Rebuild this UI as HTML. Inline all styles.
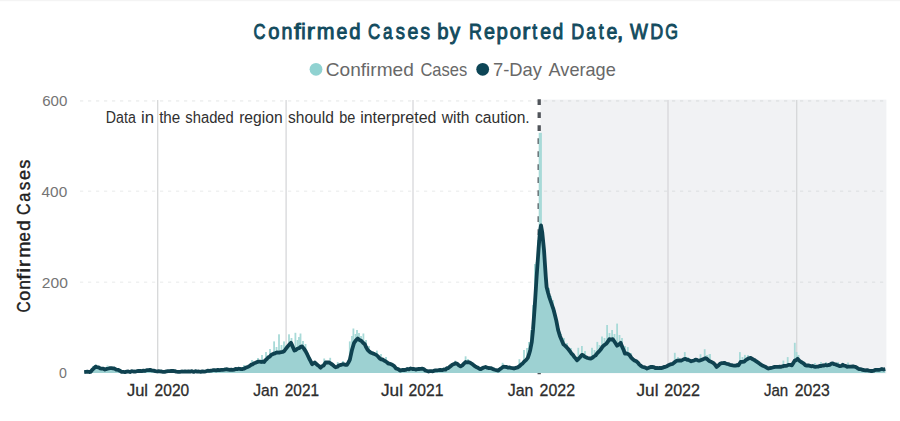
<!DOCTYPE html>
<html><head><meta charset="utf-8"><title>Confirmed Cases by Reported Date, WDG</title>
<style>
html,body{margin:0;padding:0;background:#fff;}
body{width:900px;height:421px;overflow:hidden;font-family:"Liberation Sans",sans-serif;}
svg{display:block;}
text{font-family:"Liberation Sans",sans-serif;}
</style></head><body>
<svg width="900" height="421" viewBox="0 0 900 421">
<rect width="900" height="421" fill="#ffffff"/>
<rect width="900" height="1.2" fill="#f4f4f4"/>
<!-- shaded region -->
<rect x="540.4" y="99.6" width="346" height="273.8" fill="#f1f2f4"/>
<!-- horizontal dotted gridlines -->
<g stroke="#7a7d82" stroke-opacity="0.11" stroke-width="1.6" stroke-dasharray="3.2 4.8" fill="none">
<line x1="80" y1="100.9" x2="886" y2="100.9"/><line x1="80" y1="191.2" x2="886" y2="191.2"/><line x1="80" y1="282.2" x2="886" y2="282.2"/>
</g>
<!-- vertical gridlines -->
<g stroke="#d5d6d8" stroke-width="1.25" fill="none">
<line x1="157.7" y1="100" x2="157.7" y2="373"/><line x1="286.1" y1="100" x2="286.1" y2="373"/><line x1="413.0" y1="100" x2="413.0" y2="373"/><line x1="668.0" y1="100" x2="668.0" y2="373"/><line x1="796.7" y1="100" x2="796.7" y2="373"/>
</g>
<!-- reference dashed line -->
<line x1="539.2" y1="99.2" x2="539.2" y2="374.3" stroke="#50545a" stroke-width="3.3" stroke-dasharray="5.9 7.1"/>
<!-- bars -->
<g fill="#a8dad8"><rect x="92.1" y="366.0" width="1.8" height="7.0"/><rect x="95.1" y="364.5" width="1.8" height="8.5"/><rect x="106.6" y="365.5" width="1.8" height="7.5"/><rect x="243.1" y="365.0" width="1.8" height="8.0"/><rect x="251.1" y="360.0" width="1.8" height="13.0"/><rect x="257.1" y="358.0" width="1.8" height="15.0"/><rect x="261.1" y="355.0" width="1.8" height="18.0"/><rect x="265.1" y="352.0" width="1.8" height="21.0"/><rect x="269.1" y="349.0" width="1.8" height="24.0"/><rect x="273.2" y="341.4" width="1.8" height="31.6"/><rect x="275.6" y="347.0" width="1.8" height="26.0"/><rect x="278.1" y="334.3" width="1.8" height="38.7"/><rect x="280.6" y="345.0" width="1.8" height="28.0"/><rect x="283.1" y="341.4" width="1.8" height="31.6"/><rect x="285.6" y="345.0" width="1.8" height="28.0"/><rect x="288.1" y="334.3" width="1.8" height="38.7"/><rect x="290.6" y="338.0" width="1.8" height="35.0"/><rect x="294.5" y="332.8" width="1.8" height="40.2"/><rect x="296.6" y="340.0" width="1.8" height="33.0"/><rect x="298.1" y="337.0" width="1.8" height="36.0"/><rect x="299.6" y="333.5" width="1.8" height="39.5"/><rect x="302.1" y="341.0" width="1.8" height="32.0"/><rect x="299.1" y="337.8" width="1.8" height="35.2"/><rect x="304.6" y="344.0" width="1.8" height="29.0"/><rect x="323.3" y="358.5" width="1.8" height="14.5"/><rect x="329.3" y="357.8" width="1.8" height="15.2"/><rect x="336.8" y="362.0" width="1.8" height="11.0"/><rect x="342.1" y="361.0" width="1.8" height="12.0"/><rect x="348.9" y="341.4" width="1.8" height="31.6"/><rect x="351.1" y="336.0" width="1.8" height="37.0"/><rect x="352.5" y="328.5" width="1.8" height="44.5"/><rect x="354.6" y="334.0" width="1.8" height="39.0"/><rect x="356.1" y="330.0" width="1.8" height="43.0"/><rect x="358.1" y="333.0" width="1.8" height="40.0"/><rect x="360.1" y="336.0" width="1.8" height="37.0"/><rect x="362.5" y="333.5" width="1.8" height="39.5"/><rect x="365.1" y="340.0" width="1.8" height="33.0"/><rect x="368.1" y="346.0" width="1.8" height="27.0"/><rect x="376.0" y="350.6" width="1.8" height="22.4"/><rect x="380.1" y="354.0" width="1.8" height="19.0"/><rect x="385.1" y="357.0" width="1.8" height="16.0"/><rect x="454.4" y="360.6" width="1.8" height="12.4"/><rect x="464.7" y="356.3" width="1.8" height="16.7"/><rect x="467.1" y="359.0" width="1.8" height="14.0"/><rect x="501.7" y="362.8" width="1.8" height="10.2"/><rect x="518.5" y="359.2" width="1.8" height="13.8"/><rect x="523.1" y="350.0" width="1.8" height="23.0"/><rect x="526.1" y="348.0" width="1.8" height="25.0"/><rect x="528.1" y="342.0" width="1.8" height="31.0"/><rect x="530.1" y="330.0" width="1.8" height="43.0"/><rect x="532.1" y="305.0" width="1.8" height="68.0"/><rect x="534.0" y="264.0" width="1.8" height="109.0"/><rect x="535.6" y="262.0" width="1.8" height="111.0"/><rect x="537.1" y="240.0" width="1.8" height="133.0"/><rect x="542.1" y="240.0" width="1.8" height="133.0"/><rect x="544.1" y="262.0" width="1.8" height="111.0"/><rect x="546.1" y="280.0" width="1.8" height="93.0"/><rect x="548.1" y="288.0" width="1.8" height="85.0"/><rect x="550.1" y="296.0" width="1.8" height="77.0"/><rect x="552.1" y="300.0" width="1.8" height="73.0"/><rect x="554.1" y="310.0" width="1.8" height="63.0"/><rect x="556.1" y="320.0" width="1.8" height="53.0"/><rect x="558.1" y="328.0" width="1.8" height="45.0"/><rect x="560.1" y="334.0" width="1.8" height="39.0"/><rect x="563.1" y="338.0" width="1.8" height="35.0"/><rect x="566.1" y="343.0" width="1.8" height="30.0"/><rect x="570.1" y="348.0" width="1.8" height="25.0"/><rect x="577.4" y="347.8" width="1.8" height="25.2"/><rect x="581.0" y="346.0" width="1.8" height="27.0"/><rect x="584.1" y="351.0" width="1.8" height="22.0"/><rect x="591.1" y="347.8" width="1.8" height="25.2"/><rect x="593.6" y="350.0" width="1.8" height="23.0"/><rect x="596.4" y="341.9" width="1.8" height="31.1"/><rect x="598.6" y="345.0" width="1.8" height="28.0"/><rect x="601.1" y="336.5" width="1.8" height="36.5"/><rect x="603.6" y="338.0" width="1.8" height="35.0"/><rect x="606.2" y="325.0" width="1.8" height="48.0"/><rect x="608.6" y="333.0" width="1.8" height="40.0"/><rect x="611.2" y="330.0" width="1.8" height="43.0"/><rect x="613.6" y="334.0" width="1.8" height="39.0"/><rect x="616.2" y="323.6" width="1.8" height="49.4"/><rect x="618.6" y="335.0" width="1.8" height="38.0"/><rect x="621.1" y="338.0" width="1.8" height="35.0"/><rect x="624.1" y="346.0" width="1.8" height="27.0"/><rect x="626.9" y="347.1" width="1.8" height="25.9"/><rect x="630.1" y="353.0" width="1.8" height="20.0"/><rect x="673.9" y="352.8" width="1.8" height="20.2"/><rect x="677.1" y="357.0" width="1.8" height="16.0"/><rect x="683.9" y="352.1" width="1.8" height="20.9"/><rect x="687.1" y="357.0" width="1.8" height="16.0"/><rect x="699.6" y="354.2" width="1.8" height="18.8"/><rect x="703.8" y="349.2" width="1.8" height="23.8"/><rect x="706.1" y="355.0" width="1.8" height="18.0"/><rect x="708.5" y="354.2" width="1.8" height="18.8"/><rect x="709.1" y="354.0" width="1.8" height="19.0"/><rect x="739.0" y="352.1" width="1.8" height="20.9"/><rect x="741.6" y="357.0" width="1.8" height="16.0"/><rect x="744.0" y="354.9" width="1.8" height="18.1"/><rect x="747.1" y="355.0" width="1.8" height="18.0"/><rect x="782.5" y="360.6" width="1.8" height="12.4"/><rect x="786.8" y="357.1" width="1.8" height="15.9"/><rect x="793.9" y="342.8" width="1.8" height="30.2"/><rect x="795.6" y="352.0" width="1.8" height="21.0"/><rect x="797.6" y="355.0" width="1.8" height="18.0"/><rect x="814.1" y="363.0" width="1.8" height="10.0"/><rect x="820.1" y="362.0" width="1.8" height="11.0"/><rect x="825.1" y="362.0" width="1.8" height="11.0"/><rect x="837.1" y="362.0" width="1.8" height="11.0"/><rect x="847.1" y="362.5" width="1.8" height="10.5"/></g>
<rect x="538.7" y="132.8" width="3.2" height="240.2" fill="#a8dad8"/>
<path d="M84.2,373.0 L84.2,372.1 L90.7,371.8 L95.4,366.7 L100.2,368.3 L105.0,369.5 L108.5,368.5 L114.4,368.5 L121.6,371.8 L133.4,371.5 L141.8,371.1 L150.0,369.9 L157.2,371.5 L163.0,371.8 L171.4,370.9 L179.8,371.8 L188.6,371.3 L197.1,371.6 L204.2,371.6 L212.8,370.2 L221.3,369.9 L227.0,369.2 L232.7,369.9 L238.4,368.7 L244.1,368.7 L249.8,365.9 L255.5,362.8 L259.8,361.6 L264.1,362.0 L268.4,357.3 L272.6,354.2 L276.9,352.5 L281.2,352.1 L284.3,351.0 L287.8,346.4 L291.0,342.8 L294.4,350.6 L297.7,348.5 L302.1,346.4 L305.7,351.4 L309.2,358.5 L312.1,364.2 L314.9,362.5 L317.8,365.3 L320.6,367.7 L323.5,365.6 L325.6,362.5 L329.2,362.5 L332.7,364.9 L335.6,367.3 L339.1,365.3 L342.7,364.2 L347.0,364.9 L349.8,359.9 L352.0,349.9 L354.1,342.8 L357.7,338.5 L361.2,340.7 L364.8,344.2 L367.6,349.9 L371.2,352.8 L376.2,354.9 L379.8,358.5 L384.0,360.6 L388.3,363.5 L392.6,364.9 L396.1,368.5 L400.0,370.6 L405.7,369.9 L410.7,368.5 L415.7,369.6 L422.1,368.7 L427.1,371.0 L432.8,371.3 L438.5,370.2 L445.6,369.6 L451.3,365.6 L455.6,363.2 L460.6,366.3 L465.6,362.0 L469.8,362.5 L474.1,365.6 L480.5,369.2 L485.5,367.0 L491.2,368.2 L498.3,370.6 L503.3,366.7 L508.3,367.7 L514.0,368.5 L519.5,366.2 L524.3,361.5 L527.8,357.9 L530.2,350.2 L531.8,341.9 L533.0,330.0 L534.8,305.5 L536.6,277.0 L538.6,248.5 L539.9,232.0 L541.0,225.4 L542.2,232.0 L544.0,250.0 L545.8,277.0 L546.6,287.0 L548.0,292.5 L549.4,297.5 L553.3,308.8 L556.3,320.6 L558.1,330.0 L559.9,335.9 L563.4,344.3 L568.2,349.0 L572.9,354.9 L577.1,360.3 L581.9,354.9 L586.0,357.3 L590.8,358.5 L595.5,355.5 L599.1,351.4 L602.6,346.6 L606.2,343.7 L609.3,339.2 L612.8,339.2 L617.1,345.7 L620.7,342.8 L624.9,353.5 L628.5,354.2 L632.8,359.2 L636.3,361.3 L640.6,365.6 L647.0,368.5 L650.6,367.0 L657.0,368.0 L662.7,367.7 L668.4,365.3 L672.7,363.9 L677.0,360.6 L681.2,360.6 L685.5,358.8 L691.2,361.3 L695.5,359.6 L699.8,360.6 L705.5,358.2 L709.7,361.3 L713.5,363.2 L716.6,366.9 L720.0,363.8 L724.3,362.8 L730.0,364.9 L734.2,365.6 L738.5,365.3 L740.6,362.0 L744.2,361.6 L747.1,359.2 L750.6,357.8 L754.2,359.9 L758.5,362.8 L763.4,365.9 L768.4,368.5 L774.1,367.0 L779.8,366.7 L784.1,365.9 L788.4,364.9 L791.9,365.3 L794.8,360.6 L797.6,358.8 L801.2,362.0 L805.5,365.3 L811.2,366.3 L816.9,366.7 L822.6,365.5 L828.5,365.0 L832.7,363.3 L836.8,365.0 L839.8,366.2 L842.8,364.7 L846.9,366.8 L851.1,366.6 L855.2,366.8 L859.4,369.2 L865.3,370.4 L872.4,371.0 L877.2,369.8 L881.9,369.0 L885.3,369.2 L885.3,373.0 Z" fill="#9dd1d2"/>
<!-- 7 day average -->
<path d="M84.2,372.1 L85.8,371.9 L87.5,371.7 L89.1,372.0 L90.7,371.8 L92.3,369.7 L93.8,368.4 L95.4,366.7 L97.0,367.1 L98.6,367.4 L100.2,368.3 L101.8,368.7 L103.4,368.7 L105.0,369.5 L106.8,368.9 L108.5,368.5 L110.0,368.1 L111.5,368.2 L112.9,368.4 L114.4,368.5 L116.2,369.6 L118.0,369.8 L119.8,370.7 L121.6,371.8 L123.3,371.9 L125.0,372.1 L126.7,371.7 L128.3,371.5 L130.0,372.0 L131.7,371.2 L133.4,371.5 L135.1,371.7 L136.8,371.2 L138.4,371.0 L140.1,370.9 L141.8,371.1 L143.4,370.7 L145.1,370.9 L146.7,370.1 L148.4,370.2 L150.0,369.9 L151.8,370.4 L153.6,370.6 L155.4,371.1 L157.2,371.5 L158.6,371.2 L160.1,371.3 L161.6,371.5 L163.0,371.8 L164.7,371.8 L166.4,371.4 L168.0,371.1 L169.7,371.2 L171.4,370.9 L173.1,371.0 L174.8,371.1 L176.4,371.7 L178.1,371.8 L179.8,371.8 L181.6,371.5 L183.3,371.7 L185.1,371.5 L186.8,371.7 L188.6,371.3 L190.3,371.6 L192.0,371.2 L193.7,371.9 L195.4,371.2 L197.1,371.6 L198.9,371.5 L200.6,371.8 L202.4,371.3 L204.2,371.6 L205.9,371.3 L207.6,370.7 L209.4,370.9 L211.1,370.7 L212.8,370.2 L214.5,370.2 L216.2,370.4 L217.9,369.9 L219.6,370.1 L221.3,369.9 L222.7,369.8 L224.2,369.6 L225.6,369.3 L227.0,369.2 L228.4,369.7 L229.8,369.9 L231.3,369.7 L232.7,369.9 L234.1,369.7 L235.6,368.9 L237.0,369.2 L238.4,368.7 L239.8,368.8 L241.2,369.1 L242.7,369.0 L244.1,368.7 L245.5,367.8 L246.9,367.2 L248.4,366.7 L249.8,365.9 L251.2,364.7 L252.7,364.3 L254.1,363.3 L255.5,362.8 L256.9,362.1 L258.4,361.6 L259.8,361.6 L261.2,362.0 L262.7,361.6 L264.1,362.0 L265.5,360.2 L267.0,358.8 L268.4,357.3 L269.8,356.6 L271.2,354.9 L272.6,354.2 L274.0,353.6 L275.5,353.1 L276.9,352.5 L278.3,352.7 L279.8,352.5 L281.2,352.1 L282.8,351.9 L284.3,351.0 L286.1,348.5 L287.8,346.4 L289.4,344.5 L291.0,342.8 L292.7,346.6 L294.4,350.6 L296.0,349.9 L297.7,348.5 L299.2,348.2 L300.6,346.8 L302.1,346.4 L303.9,348.6 L305.7,351.4 L307.4,354.7 L309.2,358.5 L310.6,361.1 L312.1,364.2 L313.5,363.3 L314.9,362.5 L316.4,364.0 L317.8,365.3 L319.2,366.3 L320.6,367.7 L322.1,366.2 L323.5,365.6 L325.6,362.5 L327.4,362.4 L329.2,362.5 L330.9,363.6 L332.7,364.9 L334.1,366.2 L335.6,367.3 L337.4,366.7 L339.1,365.3 L340.9,364.9 L342.7,364.2 L344.1,364.4 L345.6,364.8 L347.0,364.9 L348.4,362.5 L349.8,359.9 L352.0,349.9 L354.1,342.8 L355.9,340.3 L357.7,338.5 L359.4,339.9 L361.2,340.7 L363.0,342.7 L364.8,344.2 L366.2,347.4 L367.6,349.9 L369.4,351.6 L371.2,352.8 L372.9,353.4 L374.5,354.1 L376.2,354.9 L378.0,356.4 L379.8,358.5 L381.2,359.3 L382.6,359.5 L384.0,360.6 L385.4,361.2 L386.9,362.3 L388.3,363.5 L389.7,363.7 L391.2,364.3 L392.6,364.9 L394.4,366.3 L396.1,368.5 L398.1,369.1 L400.0,370.6 L401.4,370.1 L402.9,369.9 L404.3,370.0 L405.7,369.9 L407.4,369.0 L409.0,369.3 L410.7,368.5 L412.4,369.0 L414.0,368.9 L415.7,369.6 L417.3,369.2 L418.9,369.0 L420.5,368.8 L422.1,368.7 L423.8,369.1 L425.4,370.5 L427.1,371.0 L428.5,371.5 L430.0,371.1 L431.4,371.2 L432.8,371.3 L434.2,370.7 L435.6,370.4 L437.1,370.3 L438.5,370.2 L440.3,369.9 L442.1,370.2 L443.8,369.5 L445.6,369.6 L447.0,368.2 L448.5,368.0 L449.9,366.6 L451.3,365.6 L452.7,364.5 L454.2,364.0 L455.6,363.2 L457.3,363.8 L458.9,365.3 L460.6,366.3 L462.3,365.3 L463.9,363.7 L465.6,362.0 L467.0,362.3 L468.4,362.1 L469.8,362.5 L471.2,363.4 L472.7,364.3 L474.1,365.6 L475.7,366.7 L477.3,367.4 L478.9,368.5 L480.5,369.2 L482.2,368.3 L483.8,367.5 L485.5,367.0 L486.9,367.6 L488.4,368.0 L489.8,368.2 L491.2,368.2 L493.0,369.1 L494.8,369.7 L496.5,370.2 L498.3,370.6 L500.0,369.1 L501.6,368.0 L503.3,366.7 L505.0,366.9 L506.6,367.0 L508.3,367.7 L509.7,367.5 L511.1,367.9 L512.6,368.1 L514.0,368.5 L515.8,367.9 L517.7,367.4 L519.5,366.2 L521.1,364.6 L522.7,363.4 L524.3,361.5 L526.0,360.1 L527.8,357.9 L529.0,354.4 L530.2,350.2 L531.8,341.9 L533.0,330.0 L534.8,305.5 L536.6,277.0 L538.6,248.5 L539.9,232.0 L541.0,225.4 L542.2,232.0 L544.0,250.0 L545.8,277.0 L546.6,287.0 L548.0,292.5 L549.4,297.5 L551.3,303.0 L553.3,308.8 L554.8,314.5 L556.3,320.6 L558.1,330.0 L559.9,335.9 L561.6,339.9 L563.4,344.3 L565.0,345.6 L566.6,347.2 L568.2,349.0 L569.8,351.1 L571.3,353.3 L572.9,354.9 L574.3,357.0 L575.7,358.5 L577.1,360.3 L578.7,358.6 L580.3,357.0 L581.9,354.9 L583.3,355.4 L584.6,356.6 L586.0,357.3 L587.6,358.0 L589.2,358.3 L590.8,358.5 L592.4,357.7 L593.9,356.5 L595.5,355.5 L597.3,353.2 L599.1,351.4 L600.9,349.2 L602.6,346.6 L604.4,345.0 L606.2,343.7 L607.8,341.7 L609.3,339.2 L611.0,339.6 L612.8,339.2 L614.2,341.3 L615.7,343.5 L617.1,345.7 L618.9,344.6 L620.7,342.8 L622.1,346.6 L623.5,349.7 L624.9,353.5 L626.7,353.5 L628.5,354.2 L629.9,355.6 L631.4,357.9 L632.8,359.2 L634.5,360.5 L636.3,361.3 L637.7,362.4 L639.2,364.4 L640.6,365.6 L642.2,366.7 L643.8,367.2 L645.4,367.6 L647.0,368.5 L648.8,367.8 L650.6,367.0 L652.2,366.9 L653.8,367.1 L655.4,368.1 L657.0,368.0 L658.4,368.1 L659.9,367.9 L661.3,368.1 L662.7,367.7 L664.1,367.0 L665.5,366.8 L667.0,366.2 L668.4,365.3 L669.8,364.6 L671.3,364.2 L672.7,363.9 L674.1,362.6 L675.6,361.5 L677.0,360.6 L678.4,360.7 L679.8,360.4 L681.2,360.6 L682.6,359.9 L684.1,359.1 L685.5,358.8 L686.9,359.8 L688.4,359.9 L689.8,360.6 L691.2,361.3 L692.6,360.8 L694.1,360.5 L695.5,359.6 L696.9,359.9 L698.4,360.6 L699.8,360.6 L701.2,360.0 L702.6,359.4 L704.1,358.8 L705.5,358.2 L706.9,358.8 L708.3,360.2 L709.7,361.3 L711.6,362.0 L713.5,363.2 L715.0,364.6 L716.6,366.9 L718.3,365.6 L720.0,363.8 L721.4,363.2 L722.9,363.1 L724.3,362.8 L725.7,363.5 L727.1,363.9 L728.6,364.2 L730.0,364.9 L731.4,365.1 L732.8,365.4 L734.2,365.6 L735.6,365.7 L737.1,365.1 L738.5,365.3 L740.6,362.0 L742.4,361.9 L744.2,361.6 L745.7,360.2 L747.1,359.2 L748.9,358.3 L750.6,357.8 L752.4,359.1 L754.2,359.9 L755.6,360.9 L757.1,361.9 L758.5,362.8 L760.1,364.1 L761.8,365.2 L763.4,365.9 L765.1,366.7 L766.7,367.7 L768.4,368.5 L769.8,368.1 L771.2,367.8 L772.7,367.5 L774.1,367.0 L775.5,366.9 L777.0,366.9 L778.4,366.8 L779.8,366.7 L781.2,366.8 L782.7,366.3 L784.1,365.9 L785.5,365.9 L787.0,365.6 L788.4,364.9 L790.1,364.9 L791.9,365.3 L793.3,363.0 L794.8,360.6 L796.2,360.1 L797.6,358.8 L799.4,360.7 L801.2,362.0 L802.6,362.8 L804.1,363.9 L805.5,365.3 L806.9,365.5 L808.4,365.4 L809.8,365.8 L811.2,366.3 L812.6,366.0 L814.0,366.6 L815.5,366.8 L816.9,366.7 L818.3,366.7 L819.8,365.8 L821.2,366.0 L822.6,365.5 L824.1,365.5 L825.5,365.0 L827.0,365.4 L828.5,365.0 L829.9,364.8 L831.3,363.6 L832.7,363.3 L834.1,364.2 L835.4,364.3 L836.8,365.0 L838.3,365.6 L839.8,366.2 L841.3,365.9 L842.8,364.7 L844.2,365.7 L845.5,365.8 L846.9,366.8 L848.3,366.7 L849.7,366.7 L851.1,366.6 L852.5,366.5 L853.8,366.5 L855.2,366.8 L856.6,367.4 L858.0,368.6 L859.4,369.2 L860.9,369.1 L862.3,369.8 L863.8,370.0 L865.3,370.4 L867.1,370.1 L868.8,370.6 L870.6,371.0 L872.4,371.0 L874.0,370.6 L875.6,369.8 L877.2,369.8 L878.8,369.9 L880.3,369.5 L881.9,369.0 L883.6,369.5 L885.3,369.2" fill="none" stroke="#0f4250" stroke-width="3.8" stroke-linejoin="round" stroke-linecap="butt"/>
<!-- legend markers -->
<circle cx="316" cy="69.3" r="6.4" fill="#90d2d1"/>
<circle cx="482.7" cy="69.3" r="6.4" fill="#0d4556"/>
<!-- texts -->
<text x="325.80" y="76.4" font-size="18.2" fill="#686868" textLength="88.01" lengthAdjust="spacingAndGlyphs">Confirmed</text>
<text x="420.42" y="76.4" font-size="18.2" fill="#686868" textLength="46.80" lengthAdjust="spacingAndGlyphs">Cases</text>
<text x="493.02" y="76.4" font-size="18.2" fill="#686868" textLength="48.98" lengthAdjust="spacingAndGlyphs">7-Day</text>
<text x="548.60" y="76.4" font-size="18.2" fill="#686868" textLength="67.19" lengthAdjust="spacingAndGlyphs">Average</text>
<text x="105.79" y="122.6" font-size="15.6" fill="#303030" textLength="30.03" lengthAdjust="spacingAndGlyphs">Data</text>
<text x="140.97" y="122.6" font-size="15.6" fill="#303030" textLength="13.04" lengthAdjust="spacingAndGlyphs">in</text>
<text x="159.15" y="122.6" font-size="15.6" fill="#303030" textLength="21.13" lengthAdjust="spacingAndGlyphs">the</text>
<text x="185.33" y="122.6" font-size="15.6" fill="#303030" textLength="48.48" lengthAdjust="spacingAndGlyphs">shaded</text>
<text x="239.16" y="122.6" font-size="15.6" fill="#303030" textLength="43.49" lengthAdjust="spacingAndGlyphs">region</text>
<text x="288.00" y="122.6" font-size="15.6" fill="#303030" textLength="45.80" lengthAdjust="spacingAndGlyphs">should</text>
<text x="339.15" y="122.6" font-size="15.6" fill="#303030" textLength="16.14" lengthAdjust="spacingAndGlyphs">be</text>
<text x="360.18" y="122.6" font-size="15.6" fill="#303030" textLength="76.19" lengthAdjust="spacingAndGlyphs">interpreted</text>
<text x="441.75" y="122.6" font-size="15.6" fill="#303030" textLength="27.69" lengthAdjust="spacingAndGlyphs">with</text>
<text x="474.96" y="122.6" font-size="15.6" fill="#303030" textLength="54.77" lengthAdjust="spacingAndGlyphs">caution.</text>
<text x="126.93" y="396.3" font-size="16.8" fill="#2c2c2c" stroke="#2c2c2c" stroke-width="0.3" textLength="21.07" lengthAdjust="spacingAndGlyphs">Jul</text>
<text x="154.60" y="396.3" font-size="16.8" fill="#2c2c2c" stroke="#2c2c2c" stroke-width="0.3" textLength="34.58" lengthAdjust="spacingAndGlyphs">2020</text>
<text x="253.16" y="396.3" font-size="16.8" fill="#2c2c2c" stroke="#2c2c2c" stroke-width="0.3" textLength="25.25" lengthAdjust="spacingAndGlyphs">Jan</text>
<text x="284.79" y="396.3" font-size="16.8" fill="#2c2c2c" stroke="#2c2c2c" stroke-width="0.3" textLength="34.21" lengthAdjust="spacingAndGlyphs">2021</text>
<text x="381.00" y="396.3" font-size="16.8" fill="#2c2c2c" stroke="#2c2c2c" stroke-width="0.3" textLength="21.99" lengthAdjust="spacingAndGlyphs">Jul</text>
<text x="408.59" y="396.3" font-size="16.8" fill="#2c2c2c" stroke="#2c2c2c" stroke-width="0.3" textLength="34.85" lengthAdjust="spacingAndGlyphs">2021</text>
<text x="507.79" y="396.3" font-size="16.8" fill="#2c2c2c" stroke="#2c2c2c" stroke-width="0.3" textLength="25.64" lengthAdjust="spacingAndGlyphs">Jan</text>
<text x="539.62" y="396.3" font-size="16.8" fill="#2c2c2c" stroke="#2c2c2c" stroke-width="0.3" textLength="35.37" lengthAdjust="spacingAndGlyphs">2022</text>
<text x="636.51" y="396.3" font-size="16.8" fill="#2c2c2c" stroke="#2c2c2c" stroke-width="0.3" textLength="21.94" lengthAdjust="spacingAndGlyphs">Jul</text>
<text x="664.20" y="396.3" font-size="16.8" fill="#2c2c2c" stroke="#2c2c2c" stroke-width="0.3" textLength="35.79" lengthAdjust="spacingAndGlyphs">2022</text>
<text x="763.93" y="396.3" font-size="16.8" fill="#2c2c2c" stroke="#2c2c2c" stroke-width="0.3" textLength="24.28" lengthAdjust="spacingAndGlyphs">Jan</text>
<text x="794.80" y="396.3" font-size="16.8" fill="#2c2c2c" stroke="#2c2c2c" stroke-width="0.3" textLength="35.03" lengthAdjust="spacingAndGlyphs">2023</text>
<text x="42.24" y="106.4" font-size="15.2" fill="#747474" textLength="25.16" lengthAdjust="spacingAndGlyphs">600</text>
<text x="41.57" y="196.8" font-size="15.2" fill="#747474" textLength="25.64" lengthAdjust="spacingAndGlyphs">400</text>
<text x="41.80" y="287.6" font-size="15.2" fill="#747474" textLength="26.00" lengthAdjust="spacingAndGlyphs">200</text>
<text x="59.00" y="378.2" font-size="15.2" fill="#747474" textLength="7.89" lengthAdjust="spacingAndGlyphs">0</text><g font-size="22.3" fill="#124b5e" stroke="#124b5e" stroke-width="0.95"><text x="253.53" y="38.65" textLength="12.03" lengthAdjust="spacingAndGlyphs">C</text><text x="268.33" y="38.65" textLength="11.25" lengthAdjust="spacingAndGlyphs">o</text><text x="281.47" y="38.65" textLength="10.93" lengthAdjust="spacingAndGlyphs">n</text><text x="294.03" y="38.65" textLength="6.76" lengthAdjust="spacingAndGlyphs">f</text><text x="301.24" y="38.65" textLength="4.42" lengthAdjust="spacingAndGlyphs">i</text><text x="306.74" y="38.65" textLength="8.19" lengthAdjust="spacingAndGlyphs">r</text><text x="316.86" y="38.65" textLength="17.77" lengthAdjust="spacingAndGlyphs">m</text><text x="336.45" y="38.65" textLength="10.84" lengthAdjust="spacingAndGlyphs">e</text><text x="349.32" y="38.65" textLength="11.32" lengthAdjust="spacingAndGlyphs">d</text><text x="368.11" y="38.65" textLength="12.26" lengthAdjust="spacingAndGlyphs">C</text><text x="383.05" y="38.65" textLength="9.47" lengthAdjust="spacingAndGlyphs">a</text><text x="395.66" y="38.65" textLength="9.23" lengthAdjust="spacingAndGlyphs">s</text><text x="407.45" y="38.65" textLength="10.84" lengthAdjust="spacingAndGlyphs">e</text><text x="420.54" y="38.65" textLength="9.57" lengthAdjust="spacingAndGlyphs">s</text><text x="437.36" y="38.65" textLength="11.32" lengthAdjust="spacingAndGlyphs">b</text><text x="449.82" y="38.65" textLength="10.44" lengthAdjust="spacingAndGlyphs">y</text><text x="469.10" y="38.65" textLength="12.95" lengthAdjust="spacingAndGlyphs">R</text><text x="484.04" y="38.65" textLength="10.96" lengthAdjust="spacingAndGlyphs">e</text><text x="496.56" y="38.65" textLength="11.32" lengthAdjust="spacingAndGlyphs">p</text><text x="509.83" y="38.65" textLength="11.25" lengthAdjust="spacingAndGlyphs">o</text><text x="522.27" y="38.65" textLength="8.06" lengthAdjust="spacingAndGlyphs">r</text><text x="532.21" y="38.65" textLength="4.84" lengthAdjust="spacingAndGlyphs">t</text><text x="540.25" y="38.65" textLength="10.84" lengthAdjust="spacingAndGlyphs">e</text><text x="552.69" y="38.65" textLength="10.45" lengthAdjust="spacingAndGlyphs">d</text><text x="571.20" y="38.65" textLength="12.99" lengthAdjust="spacingAndGlyphs">D</text><text x="586.35" y="38.65" textLength="9.47" lengthAdjust="spacingAndGlyphs">a</text><text x="598.81" y="38.65" textLength="4.95" lengthAdjust="spacingAndGlyphs">t</text><text x="606.45" y="38.65" textLength="10.84" lengthAdjust="spacingAndGlyphs">e</text><text x="616.72" y="38.65" textLength="6.65" lengthAdjust="spacingAndGlyphs">,</text><text x="629.89" y="38.65" textLength="17.90" lengthAdjust="spacingAndGlyphs">W</text><text x="650.30" y="38.65" textLength="12.99" lengthAdjust="spacingAndGlyphs">D</text><text x="665.35" y="38.65" textLength="12.69" lengthAdjust="spacingAndGlyphs">G</text></g><g font-size="18.0" fill="#202020" stroke="#202020" stroke-width="0.4"><text transform="translate(29.7,312.58) rotate(-90)" textLength="11.06" lengthAdjust="spacingAndGlyphs">C</text><text transform="translate(29.7,300.86) rotate(-90)" textLength="10.01" lengthAdjust="spacingAndGlyphs">o</text><text transform="translate(29.7,289.76) rotate(-90)" textLength="9.69" lengthAdjust="spacingAndGlyphs">n</text><text transform="translate(29.7,280.00) rotate(-90)" textLength="6.25" lengthAdjust="spacingAndGlyphs">f</text><text transform="translate(29.7,272.64) rotate(-90)" textLength="5.00" lengthAdjust="spacingAndGlyphs">i</text><text transform="translate(29.7,267.29) rotate(-90)" textLength="7.46" lengthAdjust="spacingAndGlyphs">r</text><text transform="translate(29.7,257.70) rotate(-90)" textLength="16.29" lengthAdjust="spacingAndGlyphs">m</text><text transform="translate(29.7,241.42) rotate(-90)" textLength="9.36" lengthAdjust="spacingAndGlyphs">e</text><text transform="translate(29.7,230.69) rotate(-90)" textLength="10.51" lengthAdjust="spacingAndGlyphs">d</text><text transform="translate(29.7,215.01) rotate(-90)" textLength="11.52" lengthAdjust="spacingAndGlyphs">C</text><text transform="translate(29.7,201.79) rotate(-90)" textLength="9.09" lengthAdjust="spacingAndGlyphs">a</text><text transform="translate(29.7,190.28) rotate(-90)" textLength="8.60" lengthAdjust="spacingAndGlyphs">s</text><text transform="translate(29.7,180.07) rotate(-90)" textLength="10.07" lengthAdjust="spacingAndGlyphs">e</text><text transform="translate(29.7,168.80) rotate(-90)" textLength="9.06" lengthAdjust="spacingAndGlyphs">s</text></g>
</svg>
</body></html>
